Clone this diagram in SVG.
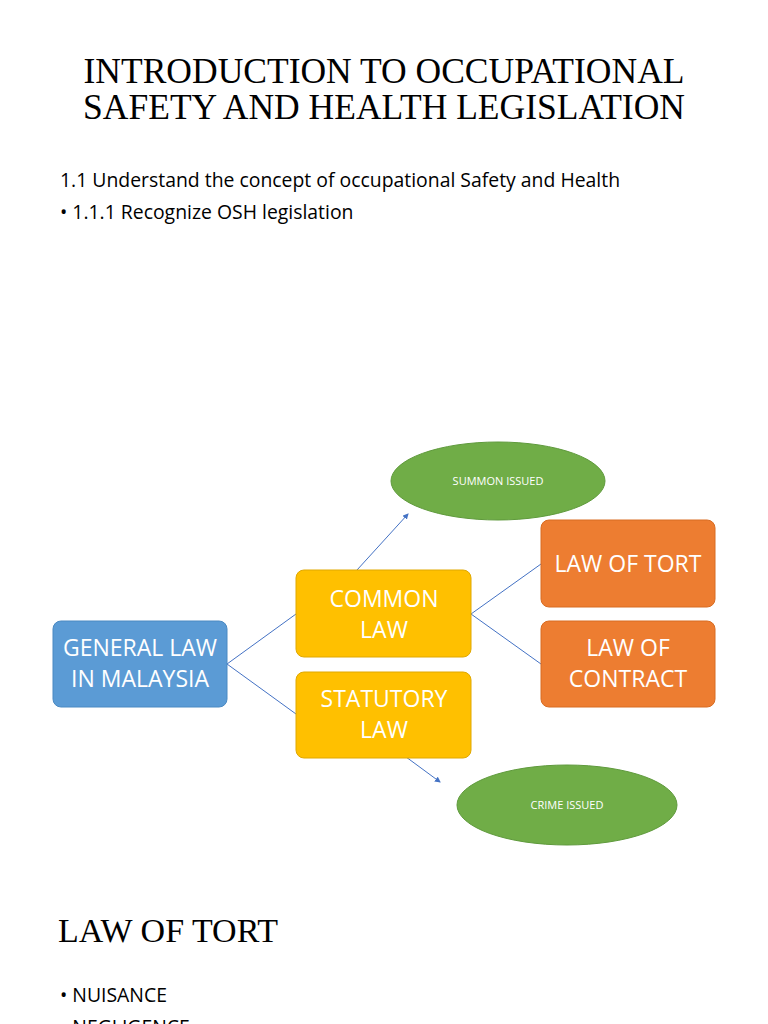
<svg xmlns="http://www.w3.org/2000/svg" width="768" height="1024" viewBox="0 0 768 1024">
<style>
.t{font-family:"Liberation Serif",serif;fill:#000}
.b{font-family:"Open Sans","Noto Sans",sans-serif;fill:#000;font-size:19.4px}
.n{font-family:"Open Sans","Noto Sans",sans-serif;fill:#fff;font-size:23px;text-anchor:middle}
.s{font-family:"Open Sans","Noto Sans",sans-serif;fill:#fff;font-size:11px;text-anchor:middle}
.c{stroke:#4472c4;stroke-width:1;fill:none}
</style>
<defs><marker id="a" viewBox="0 0 6 6" refX="5" refY="3" markerWidth="6" markerHeight="6" orient="auto"><path d="M0,0L6,3L0,6z" fill="#4472c4"/></marker></defs>
<rect width="768" height="1024" fill="#fff"/>
<text class="t" x="384" y="83" font-size="35.5" text-anchor="middle">INTRODUCTION TO OCCUPATIONAL</text>
<text class="t" x="384" y="119" font-size="35.5" text-anchor="middle">SAFETY AND HEALTH LEGISLATION</text>
<text class="b" x="60" y="187">1.1 Understand the concept of occupational Safety and Health</text>
<text class="b" x="60" y="219">• 1.1.1 Recognize OSH legislation</text>
<g id="connectors">
<path class="c" d="M227,664L296,614M227,664L296,714M471,614L541,564M471,614L541,664"/>
<path class="c" d="M357,570L408,514" marker-end="url(#a)"/>
<path class="c" d="M383,740L440,782" marker-end="url(#a)"/>
</g>
<g id="summon"><ellipse cx="498" cy="481" rx="107" ry="39" fill="#70ad47" stroke="#5f9a3c"/><text class="s" x="498" y="485">SUMMON ISSUED</text></g>
<g id="crime"><ellipse cx="567" cy="805" rx="110" ry="40" fill="#70ad47" stroke="#5f9a3c"/><text class="s" x="567" y="809">CRIME ISSUED</text></g>
<g id="general"><rect x="53" y="621" width="174" height="86" rx="8" fill="#5b9bd5" stroke="#4a89c2"/><text class="n" x="140" y="656">GENERAL LAW</text><text class="n" x="140" y="687">IN MALAYSIA</text></g>
<g id="common"><rect x="296" y="570" width="175" height="87" rx="8" fill="#ffc000" stroke="#e0a800"/><text class="n" x="384" y="607">COMMON</text><text class="n" x="384" y="638">LAW</text></g>
<g id="statutory"><rect x="296" y="672" width="175" height="86" rx="8" fill="#ffc000" stroke="#e0a800"/><text class="n" x="384" y="707">STATUTORY</text><text class="n" x="384" y="738">LAW</text></g>
<g id="tort"><rect x="541" y="520" width="174" height="87" rx="8" fill="#ed7d31" stroke="#d86c22"/><text class="n" x="628" y="572">LAW OF TORT</text></g>
<g id="contract"><rect x="541" y="621" width="174" height="86" rx="8" fill="#ed7d31" stroke="#d86c22"/><text class="n" x="628" y="656">LAW OF</text><text class="n" x="628" y="687">CONTRACT</text></g>
<text class="t" x="58" y="942" font-size="34">LAW OF TORT</text>
<text class="b" x="60" y="1002">• NUISANCE</text>
<text class="b" x="60" y="1034">• NEGLIGENCE</text>
</svg>
